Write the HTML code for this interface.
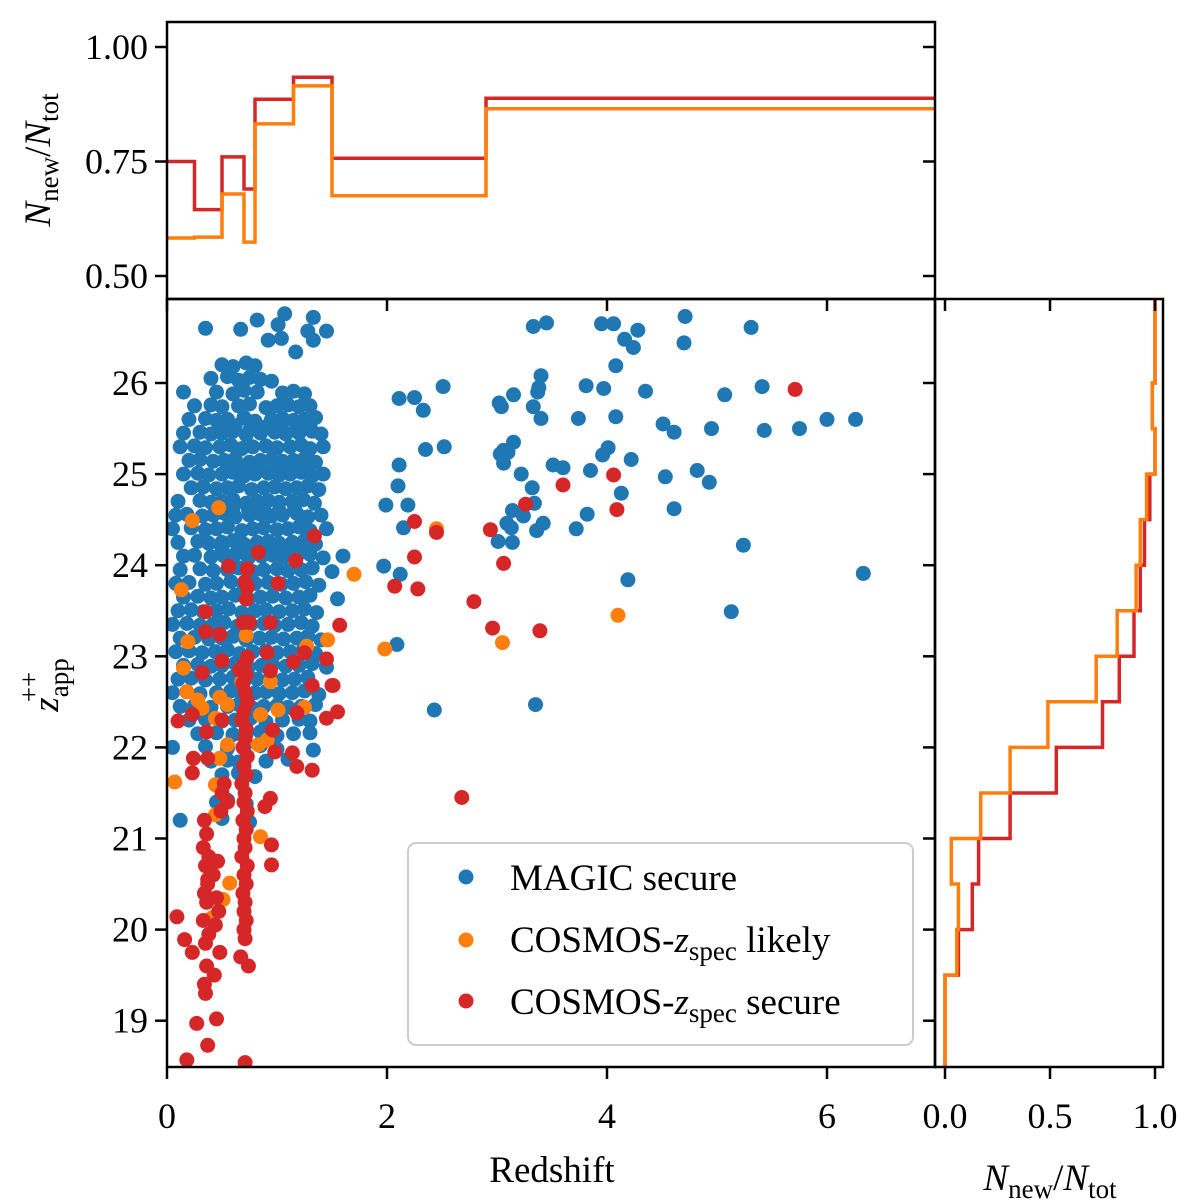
<!DOCTYPE html>
<html><head><meta charset="utf-8"><style>
body{margin:0;background:#fff;}
svg{display:block;}
text{font-family:"Liberation Serif",serif;}
</style></head><body>
<svg id="fig" width="1200" height="1200" viewBox="0 0 1200 1200" xmlns="http://www.w3.org/2000/svg" font-family="Liberation Serif, serif">
<rect width="1200" height="1200" fill="#fff"/>
<g id="scatter"></g>
<g id="topg"></g>
<g id="rightg"></g>
<g id="axes"></g>
<g>
<rect x="408" y="843" width="505" height="202" rx="8" fill="#fff" fill-opacity="0.85" stroke="#ccc" stroke-width="2"/>
<circle cx="466" cy="877" r="7.5" fill="#1f77b4"/>
<text x="510" y="890" font-size="37" font-family="Liberation Serif, serif">MAGIC secure</text>
<circle cx="466" cy="940" r="7.5" fill="#ff7f0e"/>
<text x="510" y="952" font-size="37" font-family="Liberation Serif, serif">COSMOS-<tspan font-style="italic">z</tspan><tspan font-size="27" dy="8">spec</tspan><tspan dy="-8"> likely</tspan></text>
<circle cx="466" cy="1001" r="7.5" fill="#d62728"/>
<text x="510" y="1014" font-size="37" font-family="Liberation Serif, serif">COSMOS-<tspan font-style="italic">z</tspan><tspan font-size="27" dy="8">spec</tspan><tspan dy="-8"> secure</tspan></text>
</g>
<text x="552" y="1182" font-size="37" text-anchor="middle" font-family="Liberation Serif, serif">Redshift</text>
<text transform="translate(58,685) rotate(-90)" font-size="37" text-anchor="middle" font-family="Liberation Serif, serif"><tspan font-style="italic">z</tspan><tspan font-size="27" dy="10">app</tspan><tspan font-size="27" dx="-44" dy="-30">++</tspan></text>
<text transform="translate(50,160) rotate(-90)" font-size="37" text-anchor="middle" font-family="Liberation Serif, serif"><tspan font-style="italic">N</tspan><tspan font-size="27" dy="8">new</tspan><tspan dy="-8">/</tspan><tspan font-style="italic">N</tspan><tspan font-size="27" dy="8">tot</tspan></text>
<text x="1050" y="1190" font-size="37" text-anchor="middle" font-family="Liberation Serif, serif"><tspan font-style="italic">N</tspan><tspan font-size="27" dy="8">new</tspan><tspan dy="-8">/</tspan><tspan font-style="italic">N</tspan><tspan font-size="27" dy="8">tot</tspan></text>
</svg>
<script>
// ---- data ----
const blueZ = [0.35,0.67,0.82,1.07,1.01,0.92,1.04,1.33,1.28,1.45,1.33,1.17,
0.5,0.6,0.72,0.8, 0.4,0.55,0.65,0.75,0.85,0.95, 0.15,0.45,0.6,0.7,0.82,1.05,1.15,1.25,
0.25,0.4,0.5,0.65,0.75,0.9,1.0,1.1,1.2,1.3, 0.2,0.35,0.45,0.55,0.7,0.8,0.95,1.05,1.15,1.25,1.35,
0.15,0.3,0.4,0.5,0.6,0.72,0.85,0.98,1.08,1.2,1.32,1.4, 0.12,0.25,0.35,0.48,0.58,0.68,0.78,0.9,1.0,1.12,1.22,1.3,1.42,
0.2,0.3,0.42,0.52,0.62,0.75,0.85,0.95,1.05,1.15,1.25,1.35, 0.15,0.28,0.38,0.5,0.6,0.7,0.8,0.92,1.02,1.12,1.22,1.32,1.42,
0.22,0.33,0.45,0.55,0.65,0.77,0.88,0.98,1.08,1.18,1.28,1.38, 0.1,0.3,0.4,0.5,0.6,0.72,0.82,0.92,1.02,1.14,1.24,1.34,
0.08,0.18,0.32,0.42,0.52,0.62,0.75,0.85,0.95,1.05,1.18,1.28,1.4, 0.05,0.22,0.35,0.45,0.55,0.68,0.78,0.88,1.0,1.1,1.2,1.3,1.45,
0.1,0.28,0.38,0.5,0.6,0.7,0.82,0.92,1.02,1.14,1.25,1.35, 0.15,0.25,0.4,0.52,0.62,0.74,0.86,0.96,1.06,1.18,1.3,1.42,1.6,
0.12,0.3,0.42,0.55,0.65,0.78,0.88,1.0,1.1,1.22,1.32,1.5, 0.08,0.2,0.35,0.45,0.58,0.7,0.8,0.92,1.04,1.15,1.26,1.38,
0.15,0.28,0.4,0.5,0.62,0.74,0.85,0.96,1.08,1.2,1.3,1.55, 0.1,0.22,0.33,0.45,0.56,0.68,0.8,0.9,1.02,1.14,1.25,1.36,
0.05,0.18,0.3,0.42,0.52,0.64,0.76,0.88,0.98,1.1,1.22,1.32, 0.12,0.25,0.38,0.5,0.6,0.72,0.84,0.95,1.06,1.18,1.28,1.4,
0.08,0.2,0.32,0.44,0.55,0.66,0.78,0.9,1.0,1.12,1.24,1.35, 0.15,0.28,0.4,0.5,0.62,0.74,0.86,0.96,1.08,1.2,1.32,1.45,
0.1,0.22,0.35,0.48,0.6,0.7,0.82,0.94,1.05,1.16,1.28, 0.05,0.18,0.3,0.45,0.58,0.68,0.8,0.9,1.02,1.14,1.25,1.38,
0.12,0.25,0.4,0.55,0.65,0.78,0.88,1.0,1.1,1.22,1.35, 0.2,0.35,0.5,0.62,0.76,0.9,1.05,1.2,1.3,
0.28,0.45,0.6,0.72,0.85,1.0,1.15,1.3, 0.05,0.35,0.55,0.7,0.85,1.0,1.33, 0.4,0.55,0.65,0.9,1.1, 0.5,0.65,0.8, 0.45,0.55,0.72, 0.12,0.5,0.75, 0.7,
0.48,0.62,0.76,0.9,1.04,1.18,1.3, 0.55,0.7,0.84,0.98,1.12,1.26, 0.45,0.6,0.74,0.88,1.02,1.16, 0.5,0.66,0.8,0.94,1.08,1.22,
3.33,3.45,3.95,4.06,4.28,4.16,4.24,4.71,4.70,5.31,4.08,3.81,3.97,4.35,5.07,5.41,2.51,2.11,2.25,2.33,3.02,3.04,3.15,3.40,3.38,3.37,3.33,3.40,3.74,4.08,4.51,4.61,4.95,5.43,5.75,6.00,6.26,2.35,2.52,3.15,3.06,3.03,3.10,3.06,3.22,4.01,3.96,4.22,3.51,3.60,3.85,4.53,4.82,4.93,2.11,2.10,3.32,3.34,4.13,4.61,3.14,3.24,3.82,3.72,3.13,3.36,1.99,2.19,5.24,3.09,3.42,3.01,3.14,2.15,4.19,6.33,1.97,2.12,5.13,2.09,2.43,3.35];
const blueMag = [26.6,26.59,26.69,26.76,26.64,26.47,26.49,26.72,26.57,26.57,26.47,26.34,
26.2,26.18,26.22,26.19, 26.05,26.07,26.03,26.06,26.04,26.02, 25.9,25.9,25.88,25.92,25.9,25.89,25.91,25.88,
25.75,25.76,25.74,25.75,25.77,25.73,25.75,25.76,25.74,25.75, 25.6,25.61,25.59,25.6,25.62,25.58,25.6,25.61,25.59,25.6,25.62,
25.45,25.46,25.44,25.45,25.47,25.43,25.45,25.46,25.44,25.45,25.47,25.44, 25.3,25.31,25.29,25.3,25.32,25.28,25.3,25.31,25.29,25.3,25.32,25.28,25.3,
25.15,25.16,25.14,25.15,25.17,25.13,25.15,25.16,25.14,25.15,25.17,25.13, 25.0,25.01,24.99,25.0,25.02,24.98,25.0,25.01,24.99,25.0,25.02,24.98,25.0,
24.85,24.86,24.84,24.85,24.87,24.83,24.85,24.86,24.84,24.85,24.87,24.83, 24.7,24.71,24.69,24.7,24.72,24.68,24.7,24.71,24.69,24.7,24.72,24.68,
24.55,24.56,24.54,24.55,24.57,24.53,24.55,24.56,24.54,24.55,24.57,24.53,24.55, 24.4,24.41,24.39,24.4,24.42,24.38,24.4,24.41,24.39,24.4,24.42,24.38,24.4,
24.25,24.26,24.24,24.25,24.27,24.23,24.25,24.26,24.24,24.25,24.27,24.23, 24.1,24.11,24.09,24.1,24.12,24.08,24.1,24.11,24.09,24.1,24.12,24.08,24.1,
23.95,23.96,23.94,23.95,23.97,23.93,23.95,23.96,23.94,23.95,23.97,23.93, 23.8,23.81,23.79,23.8,23.82,23.78,23.8,23.81,23.79,23.8,23.82,23.78,
23.65,23.66,23.64,23.65,23.67,23.63,23.65,23.66,23.64,23.65,23.67,23.63, 23.5,23.51,23.49,23.5,23.52,23.48,23.5,23.51,23.49,23.5,23.52,23.48,
23.35,23.36,23.34,23.35,23.37,23.33,23.35,23.36,23.34,23.35,23.37,23.33, 23.2,23.21,23.19,23.2,23.22,23.18,23.2,23.21,23.19,23.2,23.22,23.18,
23.05,23.06,23.04,23.05,23.07,23.03,23.05,23.06,23.04,23.05,23.07,23.03, 22.9,22.91,22.89,22.9,22.92,22.88,22.9,22.91,22.89,22.9,22.92,22.88,
22.75,22.76,22.74,22.75,22.77,22.73,22.75,22.76,22.74,22.75,22.77, 22.6,22.61,22.59,22.6,22.62,22.58,22.6,22.61,22.59,22.6,22.62,22.58,
22.45,22.46,22.44,22.45,22.47,22.43,22.45,22.46,22.44,22.45,22.47, 22.3,22.31,22.29,22.3,22.32,22.28,22.3,22.31,22.29,
22.15,22.16,22.14,22.15,22.17,22.13,22.15,22.16, 22.0,22.01,21.99,22.0,22.02,21.98,21.97, 21.85,21.86,21.84,21.85,21.87, 21.7,21.72,21.68, 21.4,21.42,21.38, 21.2,21.22,21.18, 20.0,
25.52,25.53,25.51,25.52,25.54,25.5,25.52, 25.08,25.07,25.09,25.08,25.06,25.08, 24.62,24.63,24.61,24.62,24.6,24.62, 24.18,24.17,24.19,24.18,24.16,24.18,
26.62,26.66,26.65,26.65,26.58,26.48,26.39,26.73,26.44,26.61,26.19,25.97,25.94,25.91,25.87,25.96,25.96,25.83,25.84,25.70,25.78,25.74,25.87,26.08,25.95,25.90,25.74,25.61,25.61,25.63,25.55,25.46,25.50,25.48,25.50,25.60,25.60,25.27,25.30,25.35,25.26,25.22,25.24,25.12,25.00,25.29,25.21,25.16,25.10,25.07,25.04,24.97,25.04,24.91,25.10,24.87,24.85,24.68,24.79,24.62,24.60,24.54,24.56,24.40,24.41,24.38,24.66,24.66,24.22,24.46,24.46,24.26,24.25,24.41,23.84,23.91,23.99,23.90,23.49,23.13,22.41,22.47];
const likelyZ = [0.47,0.23,0.13,1.7,0.19,1.46,1.27,0.72,0.15,0.18,0.28,0.32,0.48,0.55,0.68,0.94,1.01,0.85,0.44,0.55,0.83,0.91,0.48,0.07,0.44,0.85,0.44,0.51,0.41,0.57,1.25,2.45,4.1,3.05,1.98];
const likelyMag = [24.63,24.49,23.73,23.9,23.16,23.18,23.11,23.23,22.87,22.61,22.52,22.43,22.55,22.47,22.72,22.72,22.41,22.36,22.32,22.03,22.03,22.08,21.88,21.62,21.59,21.02,21.26,20.33,20.13,20.51,22.44,24.4,23.45,23.15,23.08];
const secureZ = [5.71,4.06,3.6,3.26,4.09,2.25,2.45,2.94,3.06,2.25,2.07,2.28,2.79,2.96,3.39,2.68,
1.34,0.83,1.17,0.56,0.73,0.71,0.73,0.72,1.01,0.35,0.35,0.48,0.69,0.75,0.94,1.57,0.5,0.32,0.73,0.91,0.94,1.25,1.15,1.45,1.5,1.32,0.66,
0.1,0.23,0.24,0.23,0.36,0.37,0.5,0.09,0.16,0.23,0.27,0.45,0.37,0.18,0.71,0.95,0.95,0.94,0.89,0.98,1.14,1.18,1.32,1.51,1.55,1.45,1.18,0.96,
0.7,0.72,0.69,0.71,0.73,0.7,0.68,0.72,0.71,0.69,0.73,0.7,0.72,0.68,0.71,0.7,0.73,0.69,0.72,0.7,0.71,0.68,0.73,0.7,0.72,0.69,0.71,0.7,0.72,0.7,0.71,0.74,0.67,
0.34,0.36,0.33,0.38,0.35,0.42,0.37,0.34,0.45,0.36,0.47,0.33,0.44,0.38,0.35,0.48,0.36,0.43,0.34,0.46,0.37,0.35,0.5,0.55,0.52,0.49];
const secureMag = [25.93,24.99,24.88,24.67,24.61,24.48,24.36,24.39,24.02,24.09,23.77,23.74,23.6,23.31,23.28,21.45,
24.32,24.14,24.05,23.99,23.96,23.82,23.76,23.63,23.8,23.49,23.27,23.24,23.37,23.37,23.37,23.34,22.95,22.82,22.99,23.04,22.84,23.04,22.94,22.97,22.68,22.68,22.85,
22.29,22.36,21.88,21.72,22.17,21.88,22.3,20.14,19.89,19.75,18.97,19.02,18.73,18.57,18.54,20.93,20.71,21.44,21.35,21.95,21.94,21.79,21.75,22.68,22.39,22.32,22.38,22.19,
22.9,22.8,22.7,22.6,22.5,22.4,22.3,22.2,22.1,22.0,21.9,21.8,21.7,21.6,21.5,21.4,21.3,21.2,21.1,21.0,20.9,20.8,20.7,20.6,20.5,20.4,20.3,20.2,20.1,20.0,19.9,19.6,19.7,
21.2,21.05,20.9,20.8,20.7,20.6,20.5,20.4,20.35,20.3,20.2,20.1,20.05,19.95,19.85,19.75,19.6,19.5,19.4,20.75,20.55,19.3,21.5,21.4,21.6,21.3];
// top panel: fraction vs redshift bins
const zEdges = [0,0.25,0.5,0.7,0.8,1.15,1.5,2.9,7.0];
const topSecure = [0.75,0.645,0.76,0.69,0.886,0.934,0.757,0.888];
const topLikely = [0.583,0.585,0.679,0.574,0.832,0.915,0.675,0.865];
// right panel: fraction vs magnitude bins (low to high)
const magEdges = [18.5,19.5,20,20.5,21,21.5,22,22.5,23,23.5,24,24.5,25,25.5,26,27];
const rightSecure = [0.0,0.064,0.13,0.16,0.31,0.53,0.75,0.83,0.9,0.93,0.95,0.975,1.0,0.987,1.0];
const rightLikely = [0.0,0.056,0.064,0.03,0.17,0.31,0.49,0.72,0.82,0.91,0.93,0.96,1.0,0.987,1.0];
const xTicks = [0,2,4,6], yTicks = [19,20,21,22,23,24,25,26];
const topTicks = [0.5,0.75,1.0], topTickLabels = ["0.50","0.75","1.00"];
const rTicks = [0,0.5,1.0], rTickLabels = ["0.0","0.5","1.0"];

// ---- axis functions ----
const M = {l:167,r:935,t:299,b:1067};
const T = {t:22,b:299}, R = {l:935,r:1163};
const xS = z => M.l + z*110;
const yS = m => 383 - (m-26)*91.1;
const tyS = f => 47 + (1-f)*458;
const rxS = f => 945 + f*210;
const NS = "http://www.w3.org/2000/svg";
function mk(tag, attrs, parent){const e=document.createElementNS(NS,tag);for(const k in attrs)e.setAttribute(k,attrs[k]);parent.appendChild(e);return e;}

const sc = document.getElementById('scatter');
const cp = mk('clipPath',{id:'mclip'},sc);
mk('rect',{x:M.l,y:M.t,width:M.r-M.l,height:M.b-M.t},cp);
const pg = mk('g',{'clip-path':'url(#mclip)'},sc);
function series(zs, ms, col, name){
  for(let i=0;i<zs.length;i++){
    const c = mk('circle',{cx:xS(zs[i]).toFixed(1),cy:yS(ms[i]).toFixed(1),r:7.5,fill:col},pg);
    
    
  }
}
series(blueZ, blueMag, '#1f77b4', 'magic-secure-point');
series(likelyZ, likelyMag, '#ff7f0e', 'cosmos-likely-point');
series(secureZ, secureMag, '#d62728', 'cosmos-secure-point');

// top steps
const tg = document.getElementById('topg');
function topStep(vals, col, name){
  let d='';
  for(let i=0;i<vals.length;i++){
    const x0=xS(zEdges[i]), x1=Math.min(xS(zEdges[i+1]),M.r), y=tyS(vals[i]);
    d += (i===0?'M':'L')+x0.toFixed(1)+','+y.toFixed(1)+' L'+x1.toFixed(1)+','+y.toFixed(1)+' ';
  }
  const p = mk('path',{d:d,fill:'none',stroke:col,'stroke-width':3.5},tg);
  
  
}
topStep(topSecure,'#d62728','top-secure-step');
topStep(topLikely,'#ff7f0e','top-likely-step');

// right steps
const rg = document.getElementById('rightg');
function rightStep(vals, col, name){
  let d='';
  for(let i=0;i<vals.length;i++){
    const y0=Math.min(yS(magEdges[i]),M.b), y1=Math.max(yS(magEdges[i+1]),M.t), x=rxS(vals[i]);
    d += (i===0?'M':'L')+x.toFixed(1)+','+y0.toFixed(1)+' L'+x.toFixed(1)+','+y1.toFixed(1)+' ';
  }
  const p = mk('path',{d:d,fill:'none',stroke:col,'stroke-width':3.5},rg);
  
  
}
rightStep(rightSecure,'#d62728','right-secure-step');
rightStep(rightLikely,'#ff7f0e','right-likely-step');

// axes
const ax = document.getElementById('axes');
const frame = (x,y,w,h,n)=>{const r=mk('rect',{x:x,y:y,width:w,height:h,fill:'none',stroke:'#000','stroke-width':2.5},ax);};
frame(M.l,M.t,M.r-M.l,M.b-M.t,'main-plot-frame');
frame(M.l,T.t,M.r-M.l,T.b-T.t,'top-plot-frame');
frame(R.l,M.t,R.r-R.l,M.b-M.t,'right-plot-frame');
const line=(x1,y1,x2,y2)=>mk('line',{x1:x1,y1:y1,x2:x2,y2:y2,stroke:'#000','stroke-width':2.5},ax);
const txt=(x,y,s,anchor,name)=>{const t=mk('text',{x:x,y:y,'font-size':36,'font-family':'Liberation Serif, serif','text-anchor':anchor},ax);t.textContent=s;};
xTicks.forEach(v=>{const x=xS(v);line(x,M.b,x,M.b+12);line(x,M.t,x,M.t+12);txt(x,1128,String(v),'middle','x-tick-label');});
yTicks.forEach(v=>{const y=yS(v);line(M.l-12,y,M.l,y);line(M.r-12,y,M.r,y);txt(148,y+12,String(v),'end','y-tick-label');});
topTicks.forEach((v,i)=>{const y=tyS(v);line(M.l-12,y,M.l,y);line(M.r-12,y,M.r,y);txt(148,y+12,topTickLabels[i],'end','top-y-tick-label');});
rTicks.forEach((v,i)=>{const x=rxS(v);line(x,M.b,x,M.b+12);line(x,M.t,x,M.t+12);txt(x,1128,rTickLabels[i],'middle','right-x-tick-label');});
</script>
</body></html>
